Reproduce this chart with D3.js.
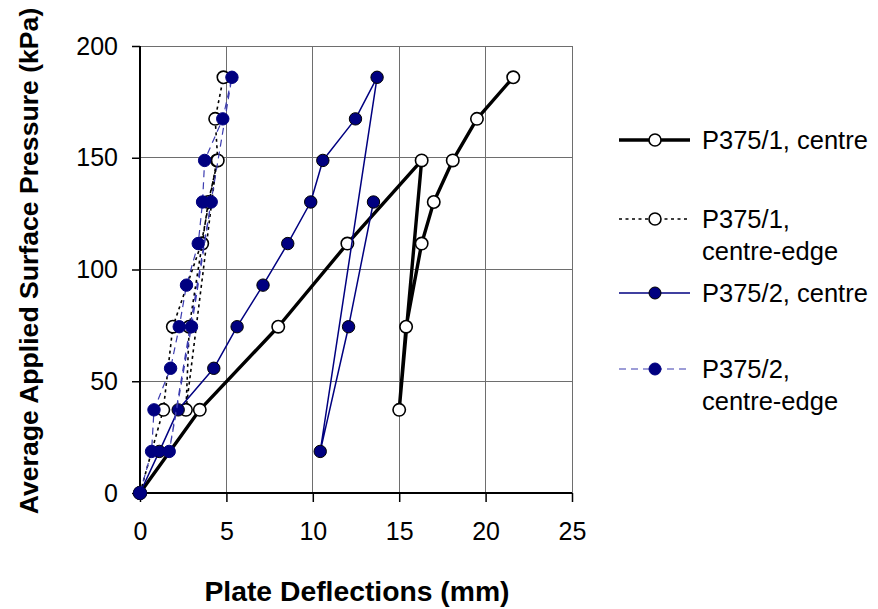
<!DOCTYPE html>
<html>
<head>
<meta charset="utf-8">
<script src="https://cdn.jsdelivr.net/npm/d3@7"></script>
<style>
  html, body { margin: 0; padding: 0; background: #fff; }
  svg { display: block; font-family: Arial, "Liberation Sans", sans-serif; }
</style>
</head>
<body>
<svg id="chart" width="878" height="609"></svg>
<script>
// ---------------- data ----------------
const xTicks = [0, 5, 10, 15, 20, 25];
const yTicks = [0, 50, 100, 150, 200];

// P375/1, centre
const p1CentreDefl = [0, 3.46, 8.0, 12.0, 16.3, 15.0, 15.4, 16.3, 17.0, 18.1, 19.5, 21.6];
const p1CentrePres = [0, 37.2, 74.4, 111.6, 148.8, 37.2, 74.4, 111.6, 130.2, 148.8, 167.4, 186];

// P375/1, centre-edge
const p1EdgeDefl = [0, 1.35, 1.9, 3.55, 4.45, 2.66, 2.85, 3.6, 3.95, 4.5, 4.35, 4.83];
const p1EdgePres = [0, 37.2, 74.4, 111.6, 148.8, 37.2, 74.4, 111.6, 130.2, 148.8, 167.4, 186];

// P375/2, centre
const p2CentreDefl = [0, 1.12, 2.21, 4.27, 5.62, 7.12, 8.55, 9.88, 10.58, 12.47, 13.72, 10.43, 12.07, 13.51];
const p2CentrePres = [0, 18.6, 37.2, 55.8, 74.4, 93, 111.6, 130.2, 148.8, 167.4, 186, 18.6, 74.4, 130.2];

// P375/2, centre-edge
const p2EdgeDefl = [0, 0.67, 0.81, 1.77, 2.27, 2.69, 3.37, 3.62, 3.74, 4.79, 5.32, 1.69, 2.98, 4.12];
const p2EdgePres = [0, 18.6, 37.2, 55.8, 74.4, 93, 111.6, 130.2, 148.8, 167.4, 186, 18.6, 74.4, 130.2];

const seriesNames = ["P375/1, centre", "P375/1, centre-edge", "P375/2, centre", "P375/2, centre-edge"];

// ---------------- styles ----------------
const styles = [
  { stroke: "#000", width: 3.4, dash: null, fill: "#fff", mstroke: "#000", mwidth: 1.6, legendLines: ["P375/1, centre"] },
  { stroke: "#000", width: 1.6, dash: "3,3.5", fill: "#fff", mstroke: "#000", mwidth: 1.6, legendLines: ["P375/1,", "centre-edge"] },
  { stroke: "#000080", width: 1.5, dash: null, fill: "#000080", mstroke: "#000", mwidth: 1, legendLines: ["P375/2, centre"] },
  { stroke: "#3c3cb0", width: 1.2, dash: "7,5", fill: "#000080", mstroke: "#000080", mwidth: 1, legendLines: ["P375/2,", "centre-edge"] }
];

const series = [
  { name: seriesNames[0], x: p1CentreDefl, y: p1CentrePres, s: styles[0] },
  { name: seriesNames[1], x: p1EdgeDefl, y: p1EdgePres, s: styles[1] },
  { name: seriesNames[2], x: p2CentreDefl, y: p2CentrePres, s: styles[2] },
  { name: seriesNames[3], x: p2EdgeDefl, y: p2EdgePres, s: styles[3] }
];

// ---------------- layout ----------------
const svg = d3.select("#chart");
const plot = { left: 140, right: 572, top: 46, bottom: 493 };

const x = d3.scaleLinear().domain([0, 25]).range([plot.left, plot.right]);
const y = d3.scaleLinear().domain([0, 200]).range([plot.bottom, plot.top]);

// gridlines
const grid = svg.append("g");
grid.selectAll("line.vg").data(xTicks.filter(d => d > 0)).enter().append("line")
  .attr("x1", d => x(d)).attr("x2", d => x(d))
  .attr("y1", plot.top).attr("y2", plot.bottom)
  .attr("stroke", "#6e6e6e").attr("stroke-width", 1).attr("shape-rendering", "crispEdges");
grid.selectAll("line.hg").data(yTicks.filter(d => d > 0)).enter().append("line")
  .attr("x1", plot.left).attr("x2", plot.right)
  .attr("y1", d => y(d)).attr("y2", d => y(d))
  .attr("stroke", "#6e6e6e").attr("stroke-width", 1).attr("shape-rendering", "crispEdges");

// axes
const xAxis = d3.axisBottom(x).tickValues(xTicks).tickSize(9).tickPadding(20).tickFormat(d3.format("d"));
const yAxis = d3.axisLeft(y).tickValues(yTicks).tickSize(8).tickPadding(14).tickFormat(d3.format("d"));

const gx = svg.append("g").attr("transform", `translate(0,${plot.bottom})`).call(xAxis);
const gy = svg.append("g").attr("transform", `translate(${plot.left},0)`).call(yAxis);
[gx, gy].forEach(g => {
  g.selectAll(".tick line").attr("stroke", "#000").attr("stroke-width", 1.5);
  g.selectAll(".tick text").attr("fill", "#000").style("font-size", "25px")
    .style("font-family", "Arial, 'Liberation Sans', sans-serif");
  g.select(".domain").remove();
});
svg.append("line").attr("x1", plot.left).attr("x2", plot.right).attr("y1", plot.bottom).attr("y2", plot.bottom)
  .attr("stroke", "#000").attr("stroke-width", 2);
svg.append("line").attr("x1", plot.left).attr("x2", plot.left).attr("y1", plot.top).attr("y2", plot.bottom)
  .attr("stroke", "#000").attr("stroke-width", 2);

// axis titles
svg.append("text")
  .attr("x", 357).attr("y", 601)
  .attr("text-anchor", "middle")
  .style("font-size", "28.3px").style("font-weight", "bold")
  .text("Plate Deflections (mm)");
svg.append("text")
  .attr("transform", "translate(38,261) rotate(-90)")
  .attr("text-anchor", "middle")
  .style("font-size", "26.6px").style("font-weight", "bold")
  .text("Average Applied Surface Pressure (kPa)");

// series
const line = d3.line().x(d => x(d[0])).y(d => y(d[1]));
const R = 6.2;
series.forEach(ser => {
  const pts = ser.x.map((v, i) => [v, ser.y[i]]);
  const g = svg.append("g");
  g.append("path").datum(pts).attr("d", line)
    .attr("fill", "none").attr("stroke", ser.s.stroke).attr("stroke-width", ser.s.width)
    .attr("stroke-dasharray", ser.s.dash).attr("stroke-linejoin", "round");
  g.selectAll("circle").data(pts).enter().append("circle")
    .attr("cx", d => x(d[0])).attr("cy", d => y(d[1])).attr("r", R)
    .attr("fill", ser.s.fill).attr("stroke", ser.s.mstroke).attr("stroke-width", ser.s.mwidth);
});

// legend
const legendRows = [140, 219, 293, 369];
const legend = svg.append("g");
series.forEach((ser, i) => {
  const ly = legendRows[i];
  const g = legend.append("g");
  g.append("line").attr("x1", 619).attr("x2", 690).attr("y1", ly).attr("y2", ly)
    .attr("stroke", ser.s.stroke).attr("stroke-width", ser.s.width).attr("stroke-dasharray", ser.s.dash);
  g.append("circle").attr("cx", 655).attr("cy", ly).attr("r", 6)
    .attr("fill", ser.s.fill).attr("stroke", ser.s.mstroke).attr("stroke-width", ser.s.mwidth);
  ser.s.legendLines.forEach((t, j) => {
    g.append("text").attr("x", 702).attr("y", ly + 9 + j * 31.5)
      .style("font-size", "25.5px").attr("fill", "#000").text(t);
  });
});
</script>
</body>
</html>
